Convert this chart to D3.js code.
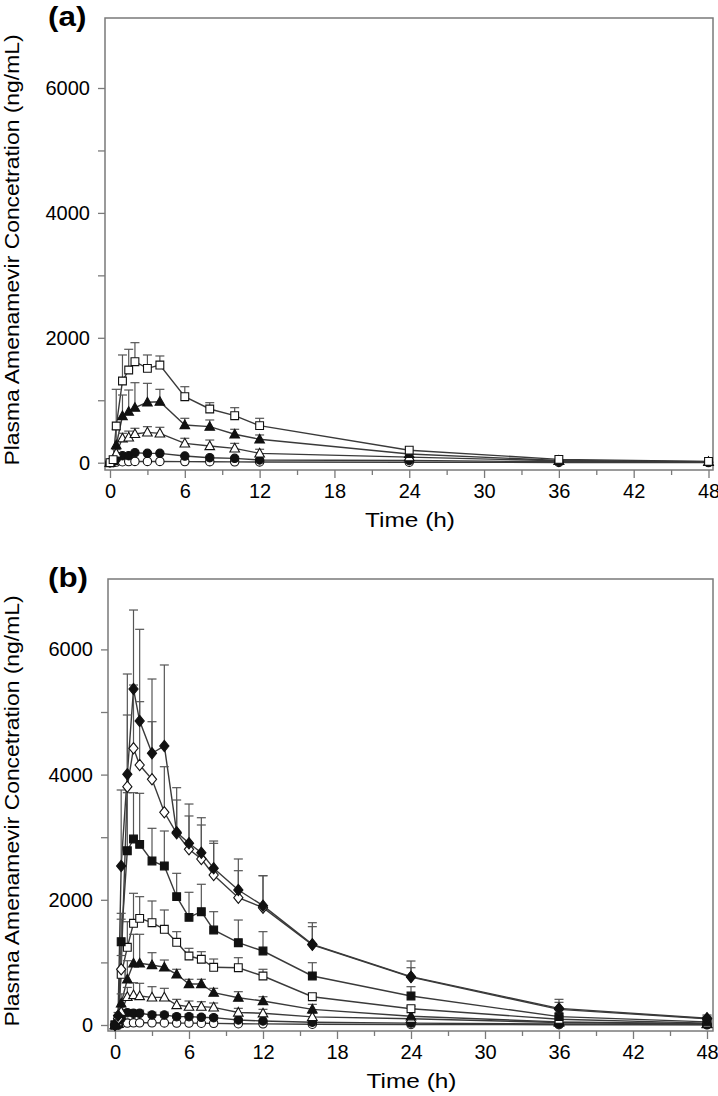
<!DOCTYPE html>
<html><head><meta charset="utf-8">
<script src="https://cdn.jsdelivr.net/npm/d3@7"></script>
<style>
html,body{margin:0;padding:0;background:#fff;}
svg{display:block;font-family:"Liberation Sans",Arial,sans-serif;}
</style></head>
<body>
<svg id="chart" width="718" height="1096"></svg>
<script>
// ---------- DATA ----------
const timesA = [0, 0.25, 0.5, 1, 1.5, 2, 3, 4, 6, 8, 10, 12, 24, 36, 48];
const timesB = [0, 0.25, 0.5, 1, 1.5, 2, 3, 4, 5, 6, 7, 8, 10, 12, 16, 24, 36, 48];
const xTicks = [0, 6, 12, 18, 24, 30, 36, 42, 48];
const yTickLabels = [0, 2000, 4000, 6000];

// Panel (a) means and upper SD
const aOpenCircle   = [0, 5, 10, 15, 18, 20, 20, 20, 18, 16, 14, 12, 8, 4, 2];
const aOpenCircleSD = [0, 2, 5, 8, 8, 8, 8, 8, 6, 5, 4, 4, 3, 2, 1];
const aFillCircle   = [0, 20, 60, 112, 112, 160, 150, 150, 107, 80, 70, 43, 35, 15, 8];
const aFillCircleSD = [0, 5, 20, 30, 30, 30, 30, 30, 25, 20, 15, 12, 8, 4, 2];
const aOpenTri      = [0, 30, 150, 391, 406, 460, 486, 470, 310, 267, 230, 150, 90, 30, 12];
const aOpenTriSD    = [0, 5, 60, 80, 100, 91, 91, 97, 81, 96, 80, 65, 20, 8, 4];
const aFillTri      = [0, 40, 283, 748, 817, 881, 967, 977, 604, 577, 455, 375, 140, 35, 15];
const aFillTriSD    = [0, 10, 250, 336, 347, 400, 304, 198, 107, 107, 80, 69, 20, 10, 5];
const aOpenSq       = [0, 50, 588, 1308, 1484, 1617, 1511, 1564, 1057, 860, 753, 593, 200, 54, 20];
const aOpenSqSD     = [0, 20, 587, 417, 332, 305, 214, 145, 160, 101, 128, 118, 30, 16, 5];

// Panel (b) means and upper SD
const bOpenCircle   = [0, 5, 20, 30, 35, 35, 35, 33, 30, 30, 28, 26, 20, 18, 12, 8, 4, 2];
const bOpenCircleSD = [0, 2, 8, 10, 10, 10, 10, 10, 8, 8, 8, 8, 6, 5, 4, 3, 2, 1];
const bFillCircle   = [0, 10, 107, 197, 187, 187, 160, 160, 133, 133, 123, 117, 80, 64, 45, 30, 15, 8];
const bFillCircleSD = [0, 5, 40, 50, 50, 50, 45, 45, 40, 40, 35, 35, 25, 20, 15, 10, 5, 3];
const bOpenTri      = [0, 20, 212, 450, 479, 463, 442, 442, 319, 293, 293, 282, 200, 187, 130, 100, 40, 15];
const bOpenTriSD    = [0, 5, 80, 150, 197, 203, 170, 144, 91, 90, 79, 69, 66, 63, 57, 20, 10, 5];
const bFillTri      = [0, 30, 347, 730, 986, 986, 958, 922, 810, 655, 655, 516, 436, 383, 250, 140, 50, 20];
const bFillTriSD    = [0, 10, 150, 297, 463, 463, 197, 116, 80, 75, 75, 70, 96, 69, 80, 30, 15, 8];
const bOpenSq       = [0, 50, 810, 1241, 1625, 1704, 1634, 1529, 1321, 1102, 1050, 922, 915, 783, 452, 260, 91, 30];
const bOpenSqSD     = [0, 20, 300, 409, 479, 346, 347, 308, 170, 123, 121, 132, 160, 107, 50, 40, 20, 10];
const bFillSq       = [0, 80, 1331, 2784, 2971, 2886, 2620, 2540, 2050, 1720, 1810, 1518, 1315, 1182, 783, 463, 133, 50];
const bFillSqSD     = [0, 30, 453, 927, 740, 815, 522, 559, 373, 400, 438, 292, 362, 309, 212, 149, 47, 20];
const bOpenDia      = [0, 100, 890, 3807, 4420, 4153, 3925, 3398, 3062, 2807, 2652, 2396, 2034, 1874, 1280, 765, 250, 100];
const bOpenDiaSD    = [0, 40, 800, 1145, 1011, 1012, 920, 728, 532, 532, 543, 506, 431, 511, 291, 150, 112, 40];
const bFillDia      = [0, 150, 2540, 4005, 5367, 4856, 4340, 4457, 3078, 2903, 2752, 2503, 2157, 1906, 1289, 772, 266, 107];
const bFillDiaSD    = [0, 50, 1214, 1602, 1262, 1465, 1187, 1294, 713, 627, 559, 436, 495, 479, 345, 250, 144, 53];

const seriesA = [
  {shape:"square",   filled:false, v:aOpenSq,     sd:aOpenSqSD},
  {shape:"triangle", filled:true,  v:aFillTri,    sd:aFillTriSD},
  {shape:"triangle", filled:false, v:aOpenTri,    sd:aOpenTriSD},
  {shape:"circle",   filled:true,  v:aFillCircle, sd:aFillCircleSD},
  {shape:"circle",   filled:false, v:aOpenCircle, sd:aOpenCircleSD}
];
const seriesB = [
  {shape:"diamond",  filled:true,  v:bFillDia,    sd:bFillDiaSD},
  {shape:"diamond",  filled:false, v:bOpenDia,    sd:bOpenDiaSD},
  {shape:"square",   filled:true,  v:bFillSq,     sd:bFillSqSD},
  {shape:"square",   filled:false, v:bOpenSq,     sd:bOpenSqSD},
  {shape:"triangle", filled:true,  v:bFillTri,    sd:bFillTriSD},
  {shape:"triangle", filled:false, v:bOpenTri,    sd:bOpenTriSD},
  {shape:"circle",   filled:true,  v:bFillCircle, sd:bFillCircleSD},
  {shape:"circle",   filled:false, v:bOpenCircle, sd:bOpenCircleSD}
];

// ---------- DRAW ----------
const svg = d3.select("#chart");
const yTitle = "Plasma Amenamevir Concetration (ng/mL)";

function shapePath(shape){
  if (shape === "square") return "M-3.9,-3.9H3.9V3.9H-3.9Z";
  if (shape === "triangle") return "M0,-5L4.8,3.6H-4.8Z";
  if (shape === "diamond") return "M0,-5.6L4.6,0L0,5.6L-4.6,0Z";
  return "M4.2,0A4.2,4.2 0 1,1 -4.2,0A4.2,4.2 0 1,1 4.2,0Z";
}

function panel(cfg){
  const {label, times, series, frame, xr, yr} = cfg;
  const x = d3.scaleLinear().domain([0,48]).range(xr);
  const y = d3.scaleLinear().domain([0,6000]).range(yr);
  const g = svg.append("g");

  // frame
  g.append("rect").attr("x",frame.l).attr("y",frame.t)
    .attr("width",frame.r-frame.l).attr("height",frame.b-frame.t)
    .attr("fill","none").attr("stroke","#7a7a7a").attr("stroke-width",1.5);

  // x axis ticks (major + minor) and labels
  const xAxis = d3.axisBottom(x).tickValues(xTicks).tickSize(8).tickPadding(6).tickFormat(d3.format("d"));
  const xg = g.append("g").attr("transform",`translate(0,${frame.b})`).call(xAxis);
  xg.select(".domain").remove();
  xg.selectAll(".tick line").attr("stroke","#7a7a7a").attr("stroke-width",1.3);
  xg.selectAll(".tick text").attr("font-size",20).attr("fill","#000")
    .attr("font-family","'Liberation Sans',Arial,sans-serif");
  const xMinor = d3.axisBottom(x).tickValues(d3.range(3,48,6)).tickSize(5).tickFormat("");
  const xm = g.append("g").attr("transform",`translate(0,${frame.b})`).call(xMinor);
  xm.select(".domain").remove();
  xm.selectAll(".tick line").attr("stroke","#7a7a7a").attr("stroke-width",1.3);

  // y axis ticks
  const yAxis = d3.axisLeft(y).tickValues(d3.range(0,7000,1000)).tickSize(7).tickPadding(8)
    .tickFormat(d => yTickLabels.includes(d) ? String(d) : "");
  const yg = g.append("g").attr("transform",`translate(${frame.l},0)`).call(yAxis);
  yg.select(".domain").remove();
  yg.selectAll(".tick line").attr("stroke","#7a7a7a").attr("stroke-width",1.3);
  yg.selectAll(".tick text").attr("font-size",20).attr("fill","#000")
    .attr("font-family","'Liberation Sans',Arial,sans-serif");

  // titles
  g.append("text")
    .attr("transform",`translate(${(frame.l+frame.r)/2 + 1},${frame.b + 57}) scale(1.22,1)`)
    .attr("text-anchor","middle").attr("font-size",20).text("Time (h)");
  const cy = (frame.t + frame.b)/2 + 6;
  g.append("text").attr("transform",`translate(19,${cy}) rotate(-90) scale(1.145,1)`)
    .attr("text-anchor","middle").attr("font-size",20).text(yTitle);
  g.append("text").attr("transform",`translate(48,${frame.t + 8}) scale(1.12,1)`)
    .attr("font-size",28).attr("font-weight","bold").text(label);

  // lines
  const line = d3.line().x(d => x(d[0])).y(d => y(d[1]));
  series.forEach(s => {
    const pts = times.map((t,i) => [t, s.v[i]]);
    g.append("path").attr("d", line(pts)).attr("fill","none")
      .attr("stroke","#3a3a3a").attr("stroke-width",1.4);
  });
  // error bars (upper only)
  series.forEach(s => {
    times.forEach((t,i) => {
      if (!s.sd[i]) return;
      const xx = x(t), y1 = y(s.v[i]), y2 = y(s.v[i] + s.sd[i]);
      if (y1 - y2 < 2) return;
      g.append("line").attr("x1",xx).attr("x2",xx).attr("y1",y1).attr("y2",y2)
        .attr("stroke","#555").attr("stroke-width",1.2);
      g.append("line").attr("x1",xx-4.5).attr("x2",xx+4.5).attr("y1",y2).attr("y2",y2)
        .attr("stroke","#555").attr("stroke-width",1.2);
    });
  });
  // markers
  series.slice().reverse().forEach(s => {
    times.forEach((t,i) => {
      g.append("path").attr("d", shapePath(s.shape))
        .attr("transform",`translate(${x(t)},${y(s.v[i])})`)
        .attr("fill", s.filled ? "#111" : "#fff")
        .attr("stroke","#111").attr("stroke-width",1.1);
    });
  });
}

panel({label:"(a)", times:timesA, series:seriesA,
  frame:{l:105, r:713, t:18, b:470}, xr:[110,708.5], yr:[462.7,88]});
panel({label:"(b)", times:timesB, series:seriesB,
  frame:{l:108, r:713, t:579, b:1031}, xr:[115,707], yr:[1025,649.4]});
</script>
</body></html>
